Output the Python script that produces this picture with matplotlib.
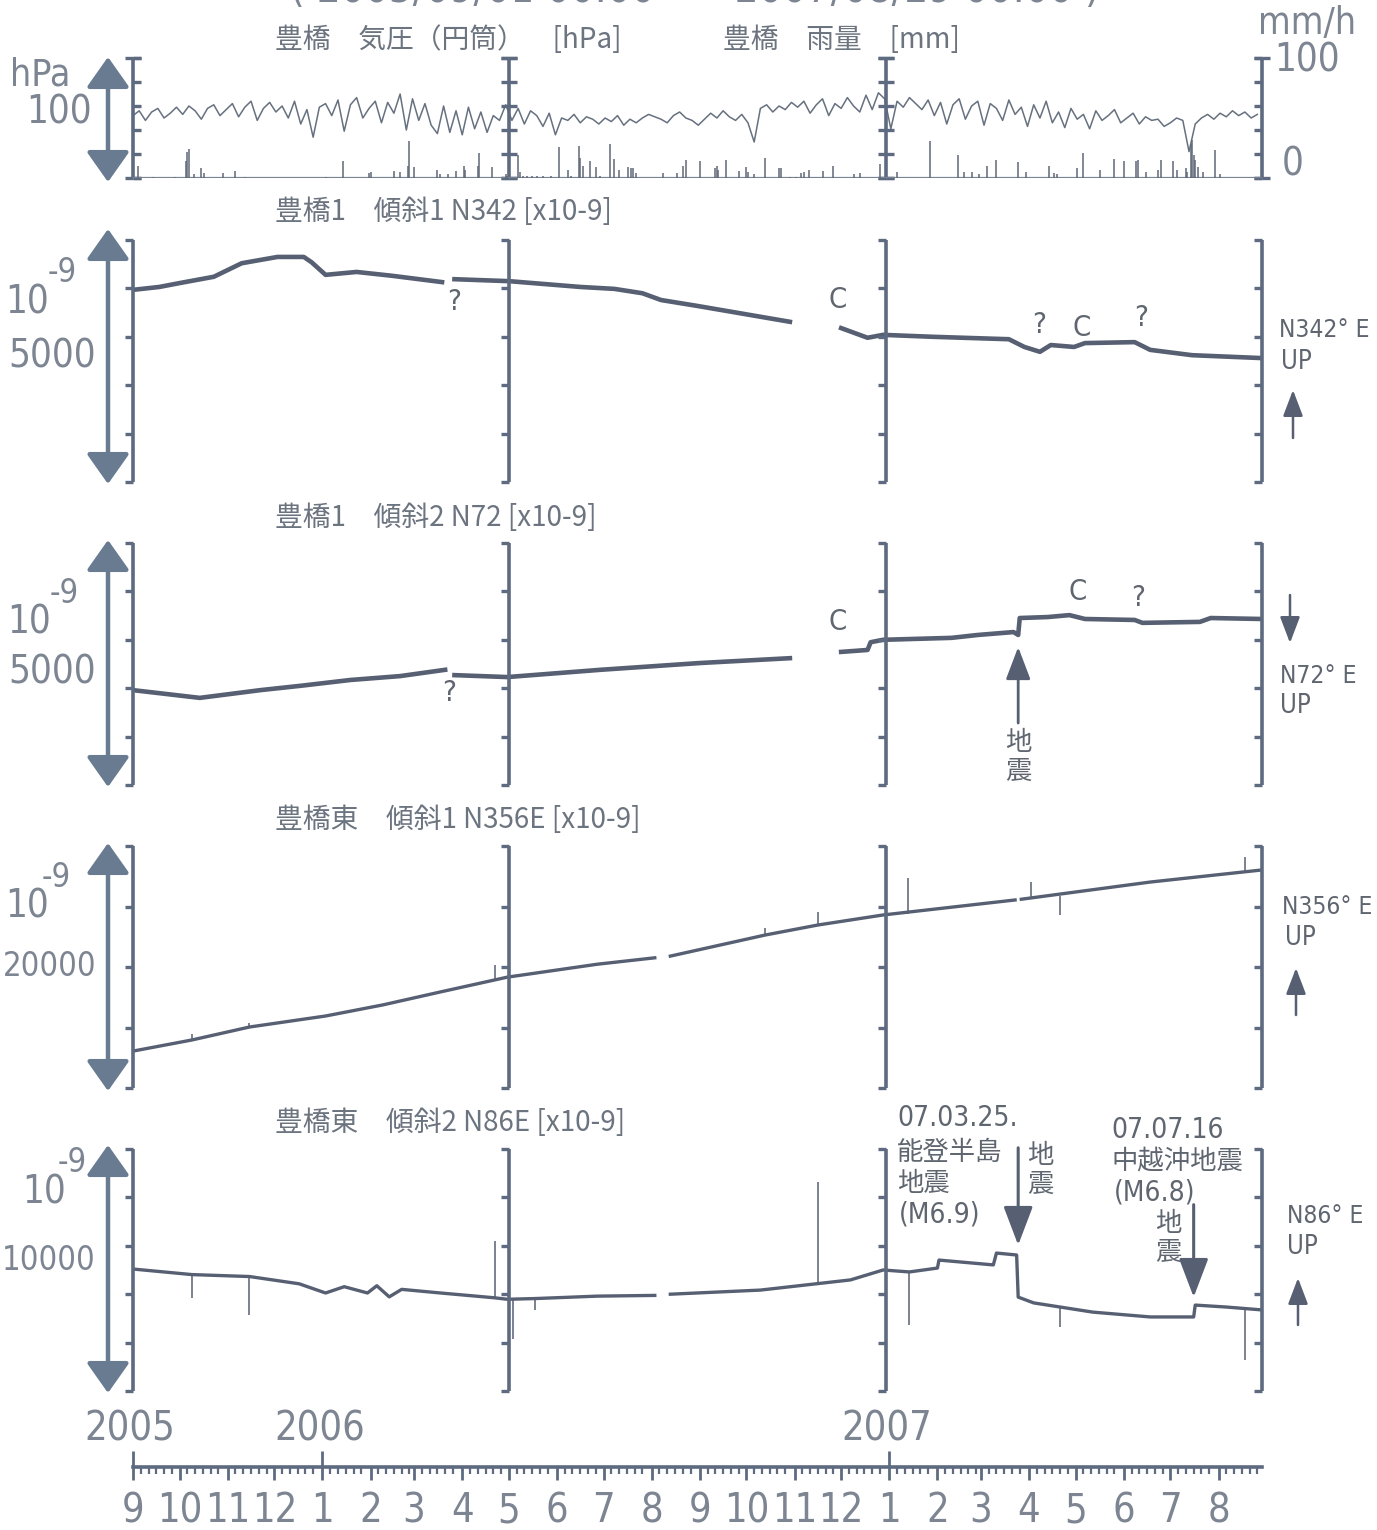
import numpy as np
import matplotlib.pyplot as plt
from matplotlib import font_manager
from matplotlib.markers import TICKLEFT, TICKRIGHT
from matplotlib.patches import FancyArrowPatch

W, H = 1377, 1530
X0, X1 = 133, 1262

t0 = np.datetime64("2005-09-01")
t1 = np.datetime64("2007-08-29")
span = int((t1 - t0).astype(int))

# ================ Data =================== #
# Toyohashi air pressure, one sample every 4 days from 2005/09/01 [hPa]
press_hpa = [
    1012, 1016, 1008, 1015, 1018, 1010, 1014, 1019,
    1013, 1020, 1016, 1009, 1018, 1021, 1012, 1017,
    1022, 1011, 1019, 1024, 1008, 1018, 1023, 1015,
    1020, 1010, 1024, 1005, 1017, 994, 1019, 1022,
    1012, 1025, 999, 1021, 1027, 1010, 1018, 1024,
    1006, 1023, 1014, 1030, 1000, 1026, 1008, 1022,
    1004, 997, 1020, 998, 1016, 996, 1019, 1001,
    1015, 998, 1012, 1008,
    1021, 1008, 1018, 1005, 1016, 1012, 1003, 1014,
    996, 1010, 1008, 1013, 1006, 1011, 1009, 1005,
    1010, 1007, 1012, 1004, 1009, 1006, 1010, 1013,
    1011, 1009, 1006, 1012, 1015, 1010, 1008, 1004,
    1009, 1014, 1010, 1016, 1011, 1008, 1013, 1006,
    990, 1018, 1021, 1015, 1020, 1017, 1023, 1019,
    1024, 1014, 1021, 1026, 1012, 1022, 1018, 1027,
    1020, 1015, 1029, 1017, 1031,
    1026, 1001, 1024, 1019, 1027, 1022, 1017, 1025,
    1012, 1023, 1005, 1021, 1026, 1009, 1020, 1024,
    1004, 1022, 1018, 1008, 1025, 1013, 1019, 1003,
    1021, 1010, 1024, 1006, 1015, 1002, 1018, 1009,
    1013, 1001, 1016, 1008, 1012, 1017, 1006, 1010,
    1014, 1005, 1011, 1008, 1009, 1003, 1006, 1010,
    1008, 982, 1005, 1010, 1013, 1009, 1014, 1011,
    1016, 1012, 1015, 1010, 1013,
]
press_day = np.arange(0, 4 * len(press_hpa), 4)

# Toyohashi hourly rain [mm/h]
rain_day = [3, 13, 27, 34, 35, 36, 39, 44, 46, 58, 66, 72, 124, 135, 152, 153, 168, 172,
            177, 178, 181, 196, 198, 203, 208, 213, 214, 222, 223, 231, 240,
            241, 248, 249, 251, 254, 257, 260, 264, 269, 274, 280, 282, 287, 288, 290,
            294, 298, 301, 307, 310, 313, 319, 321, 322, 324, 341, 350, 354, 356, 365,
            375, 376, 377, 382, 390, 395, 396, 400, 407, 416, 417, 423, 427, 430, 432,
            435, 444, 451, 464, 468, 481,
            492, 513, 531, 535, 540, 545, 550, 556, 570, 575, 590, 593, 595, 608, 612,
            623, 632, 638, 646, 647, 652, 660, 662, 670, 672, 678, 679, 681, 682, 683,
            684, 686, 689, 697, 700]
rain_mm = [10, 1, 1, 14, 22, 24, 3, 8, 4, 4, 6, 1, 1, 14, 4, 5, 6, 5,
           10, 31, 9, 7, 3, 3, 6, 10, 7, 10, 21, 9, 3,
           2, 19, 5, 2, 2, 2, 2, 2, 2, 26, 7, 2, 27, 17, 10,
           14, 9, 2, 28, 16, 7, 9, 8, 8, 4, 4, 4, 10, 15, 14,
           8, 10, 7, 15, 6, 9, 5, 3, 17, 8, 8, 1, 1, 4, 5,
           7, 6, 10, 3, 4, 12,
           5, 31, 19, 5, 5, 3, 10, 15, 13, 5, 10, 4, 3, 8, 21,
           7, 16, 14, 14, 15, 5, 7, 15, 14, 7, 8, 5, 28, 32, 19,
           15, 9, 5, 23, 3]

# Toyohashi-1 tilt 1, N342 [x10-9]  (nan = no record)
n342_day = [0, 17, 30, 52, 70, 93, 110, 115, 124, 144, 167, 199, 203, 207, 242, 288, 310,
            328, 340, 363, 423, 440, 456, 473, 483, 515, 564, 574, 584, 591, 606, 613, 645,
            655, 682, 727]
n342_val = [3970, 4030, 4110, 4240, 4520, 4650, 4650, 4540, 4280, 4340, 4260, 4130, np.nan,
            4190, 4150, 4030, 3990, 3900, 3760, 3640, 3310, np.nan, 3180, 2980, 3040, 3000,
            2950, 2790, 2690, 2830, 2790, 2870, 2890, 2730, 2620, 2560]

# Toyohashi-1 tilt 2, N72 [x10-9]
n72_day = [0, 43, 82, 108, 140, 172, 201, 204, 207, 241, 301, 365, 423, 440, 456, 473, 475,
           483, 527, 544, 567, 570, 571, 589, 603, 613, 645, 650, 687, 694, 727]
n72_val = [1960, 1800, 1960, 2050, 2170, 2250, 2380, np.nan, 2270, 2230, 2380, 2520, 2620,
           np.nan, 2750, 2790, 2950, 3000, 3040, 3100, 3160, 3100, 3450, 3470, 3510, 3430,
           3410, 3350, 3370, 3450, 3430]

# Toyohashi-east tilt 1, N356E [x10-9]
n356_day = [0, 38, 75, 124, 161, 198, 241, 299, 336, 340, 346, 407, 441, 483, 568, 570, 572,
            655, 727]
n356_val = [3050, 3970, 5040, 5950, 6870, 7940, 9160, 10230, 10760, np.nan, 10900, 12640,
            13470, 14300, 15540, np.nan, 15600, 17020, 18020]
n356_spike_day = [38, 75, 233, 407, 441, 499, 578, 597, 716]
n356_spike_base = [3970, 5040, 8900, 12640, 13470, 14400, 15650, 15900, 17850]
n356_spike_tip = [4430, 5400, 10140, 13220, 14540, 17350, 17020, 14300, 19090]

# Toyohashi-east tilt 2, N86E [x10-9]
n86_day = [0, 38, 75, 107, 124, 136, 151, 157, 165, 173, 198, 233, 241, 259, 299, 336, 340,
           346, 404, 462, 483, 500, 518, 519, 554, 556, 569, 570, 580, 618, 655, 683, 684, 704, 727]
n86_val = [5040, 4810, 4730, 4430, 4050, 4310, 4050, 4350, 3890, 4200, 4050, 3850, 3790, 3820,
           3920, 3950, np.nan, 4000, 4170, 4590, 5000, 4920, 5080, 5410, 5210, 5700, 5620, 3880,
           3640, 3260, 3060, 3060, 3550, 3470, 3350]
n86_spike_day = [38, 75, 233, 245, 259, 441, 500, 597, 716]
n86_spike_base = [4810, 4730, 3850, 3790, 3820, 4400, 4920, 3500, 3420]
n86_spike_tip = [3850, 3130, 6180, 2140, 3360, 8640, 2730, 2640, 1280]

quake_noto = int((np.datetime64("2007-03-25") - t0).astype(int))
quake_chuetsu = int((np.datetime64("2007-07-16") - t0).astype(int))

# ================ Style =================== #
LINE = "#575f72"
AXC = "#5d6a80"
ARROW = "#687b91"
TXT = "#6c7480"
LIGHT = "#7c8591"
MARK = "#5f6670"
JP = ["Noto Sans CJK JP", "DejaVu Sans"]

# narrow face for the numbers, whichever one is installed
_fonts = font_manager.fontManager.ttflist
if any(f.name == "Liberation Sans Narrow" for f in _fonts):
    NARROW, NSCALE = dict(family="Liberation Sans Narrow"), 0.95
elif any(f.name == "DejaVu Sans" and f.stretch == "condensed" for f in _fonts):
    NARROW, NSCALE = dict(family="DejaVu Sans", stretch="condensed"), 0.84
else:
    NARROW, NSCALE = dict(family="Liberation Sans"), 0.8

fig = plt.figure(figsize=(W / 100, H / 100), dpi=100)


def panel(top, bottom, lo, hi):
    ax = fig.add_axes([X0 / W, 1 - bottom / H, (X1 - X0) / W, (bottom - top) / H])
    ax.set_xlim(0, span)
    ax.set_ylim(lo, hi)
    ax.set_axis_off()
    return ax


def brackets(ax, lo, hi, n, ibeam=False):
    ticks = np.linspace(lo, hi, n + 1)
    xs = [0, span / 3, 2 * span / 3, span]
    for i, bx in enumerate(xs):
        ax.plot([bx, bx], [lo, hi], color=AXC, lw=2.6, clip_on=False, solid_capstyle="butt")
        if ibeam:
            sides = [TICKRIGHT] if i == 0 else ([TICKLEFT] if i == 3 else [TICKLEFT, TICKRIGHT])
            for m in sides:
                ax.plot([bx] * len(ticks), ticks, ls="none", marker=m, ms=6, mew=2.4,
                        color=AXC, clip_on=False)
            for m in [TICKLEFT, TICKRIGHT]:
                ax.plot([bx, bx], [lo, hi], ls="none", marker=m, ms=6, mew=2.4,
                        color=AXC, clip_on=False)
        else:
            ax.plot([bx] * len(ticks), ticks, ls="none", marker=TICKLEFT, ms=6, mew=2.4,
                    color=AXC, clip_on=False)


def ftext(x, y, s, size, color=TXT, ha="left", jp=False, **kw):
    font = dict(family=JP) if jp else NARROW
    if not jp:
        size = size * NSCALE
    fig.text(x / W, 1 - y / H, s, fontsize=size, color=color, ha=ha, va="center",
             **font, **kw)


def farrow(x, y0, y1, style, scale, lw, color=ARROW):
    fig.add_artist(FancyArrowPatch((x / W, 1 - y0 / H), (x / W, 1 - y1 / H),
                                   transform=fig.transFigure, arrowstyle=style,
                                   mutation_scale=scale, lw=lw, color=color,
                                   shrinkA=0, shrinkB=0))


def scale_label(y10, y9, yval, x10, x9, text):
    ftext(x10, y10, "10", 33, LIGHT)
    ftext(x9, y9, "-9", 28, LIGHT)
    ftext(96, yval, text, 33 if len(text) < 5 else 28, LIGHT, ha="right")


BIG = "<|-|>,head_length=0.85,head_width=0.6"
SMALL = "-|>,head_length=1.0,head_width=0.38"

# ================ Pressure / rain =================== #
ax1 = panel(58, 178, 960, 1060)
ax1.plot(press_day, press_hpa, color="#66707f", lw=1.1)
brackets(ax1, 960, 1060, 5, ibeam=True)
ax1r = panel(58, 178, 0, 100)
ax1r.axhline(0, color="#7a8392", lw=1.6)
ax1r.vlines(rain_day, 0, rain_mm, color="#5f6878", lw=1.1)

ftext(275, 40, "豊橋　気圧（円筒）　[hPa]", 20, jp=True)
ftext(723, 40, "豊橋　雨量　[mm]", 20, jp=True)
ftext(10, 75, "hPa", 32, LIGHT)
ftext(92, 113, "100", 33, LIGHT, ha="right")
ftext(1258, 24, "mm/h", 32, LIGHT)
ftext(1274, 60, "100", 33, LIGHT)
ftext(1282, 165, "0", 33, LIGHT)
farrow(108, 182, 57, BIG, 22, 3.2)

# ================ Tilt panels =================== #
ax2 = panel(240, 482, 0, 5000)
ax2.plot(n342_day, n342_val, color=LINE, lw=3.3)
brackets(ax2, 0, 5000, 5)
ftext(275, 212, "豊橋1　傾斜1 N342 [x10-9]", 20, jp=True)
scale_label(302, 272, 357, 5, 48, "5000")
farrow(108, 484, 229, BIG, 22, 3.2)
for x, y, s in [(447, 302, "?"), (829, 300, "C"), (1032, 325, "?"), (1073, 328, "C"), (1134, 318, "?")]:
    ftext(x, y, s, 25, MARK)
ftext(1279, 330, "N342° E", 21, MARK)
ftext(1281, 362, "UP", 22, MARK)
farrow(1293, 438, 390, SMALL, 16, 1.8, LINE)

ax3 = panel(543, 785, 0, 5000)
ax3.plot(n72_day, n72_val, color=LINE, lw=3.3)
brackets(ax3, 0, 5000, 5)
ftext(275, 518, "豊橋1　傾斜2 N72 [x10-9]", 20, jp=True)
scale_label(623, 594, 672, 7, 50, "5000")
farrow(108, 787, 540, BIG, 22, 3.2)
for x, y, s in [(442, 693, "?"), (828, 622, "C"), (1068, 592, "C"), (1131, 598, "?")]:
    ftext(x, y, s, 25, MARK)
ax3.annotate("", xy=(quake_noto, 2850), xytext=(quake_noto, 1280), annotation_clip=False,
             arrowprops=dict(arrowstyle=SMALL, mutation_scale=20, lw=2.0, color=LINE,
                             shrinkA=0, shrinkB=0))
ftext(1018, 757, "地\n震", 19, MARK, ha="center", jp=True, linespacing=1.05)
ftext(1280, 676, "N72° E", 21, MARK)
ftext(1280, 706, "UP", 22, MARK)
farrow(1290, 595, 643, SMALL, 16, 1.8, LINE)

ax4 = panel(846, 1088, 0, 20000)
ax4.plot(n356_day, n356_val, color=LINE, lw=2.4)
ax4.vlines(n356_spike_day, n356_spike_base, n356_spike_tip, color=LINE, lw=1.1)
brackets(ax4, 0, 20000, 4)
ftext(275, 820, "豊橋東　傾斜1 N356E [x10-9]", 20, jp=True)
scale_label(907, 878, 967, 5, 42, "20000")
farrow(108, 1091, 843, BIG, 22, 3.2)
ftext(1282, 907, "N356° E", 21, MARK)
ftext(1285, 938, "UP", 22, MARK)
farrow(1296, 1015, 968, SMALL, 16, 1.8, LINE)

ax5 = panel(1149, 1391, 0, 10000)
ax5.plot(n86_day, n86_val, color=LINE, lw=2.4)
ax5.vlines(n86_spike_day, n86_spike_base, n86_spike_tip, color=LINE, lw=1.1)
brackets(ax5, 0, 10000, 5)
ftext(275, 1123, "豊橋東　傾斜2 N86E [x10-9]", 20, jp=True)
scale_label(1192, 1162, 1261, 22, 58, "10000")
farrow(108, 1393, 1145, BIG, 22, 3.2)
for day, tail, tip in [(quake_noto, 10050, 6030), (quake_chuetsu, 7700, 3880)]:
    ax5.annotate("", xy=(day, tip), xytext=(day, tail), annotation_clip=False,
                 arrowprops=dict(arrowstyle=SMALL, mutation_scale=24, lw=2.2, color=LINE,
                                 shrinkA=0, shrinkB=0))
ftext(897, 1118, "07.03.25.", 24, MARK)
ftext(897, 1152, "能登半島", 19, MARK, jp=True)
ftext(897, 1183, "地震", 19, MARK, jp=True)
ftext(899, 1214, "(M6.9)", 24, MARK)
ftext(1040, 1170, "地\n震", 19, MARK, ha="center", jp=True, linespacing=1.05)
ftext(1111, 1130, "07.07.16", 24, MARK)
ftext(1111, 1162, "中越沖地震", 19, MARK, jp=True)
ftext(1114, 1192, "(M6.8)", 24, MARK)
ftext(1168, 1238, "地\n震", 19, MARK, ha="center", jp=True, linespacing=1.05)
ftext(1287, 1216, "N86° E", 21, MARK)
ftext(1287, 1247, "UP", 22, MARK)
farrow(1298, 1325, 1278, SMALL, 16, 1.8, LINE)

ftext(695, -10, "( 2005/09/01 00:00  ~  2007/08/29 00:00 )", 36, LIGHT, ha="center")

# ================ Time axis =================== #
months = np.arange(np.datetime64("2005-09"), np.datetime64("2007-09"))
month_days = (months.astype("datetime64[D]") - t0).astype(int)
month_num = (months.astype(int) % 12) + 1
minor_days = [d + k for d in month_days for k in (5, 10, 15, 20, 25) if d + k < span]
year_days = [0, month_days[4], month_days[16]]
year_lab = ["2005", "2006", "2007"]

axt = fig.add_axes([X0 / W, 1 - 1467 / H, (X1 - X0) / W, 20 / H])
axt.set_xlim(0, span)
axt.set_ylim(0, 1)
for s in ["top", "left", "right"]:
    axt.spines[s].set_visible(False)
axt.spines["bottom"].set_color(AXC)
axt.spines["bottom"].set_linewidth(2.6)
axt.patch.set_alpha(0)
axt.set_yticks([])
axt.set_xticks(month_days)
axt.set_xticks(minor_days, minor=True)
axt.tick_params(axis="x", which="major", length=9, width=2.0, color=AXC, labelbottom=False)
axt.tick_params(axis="x", which="minor", length=5, width=1.6, color=AXC)
axt.vlines(year_days, 0, 0.8, color=AXC, lw=2.0, clip_on=False)
for d, m in zip(month_days, month_num):
    axt.annotate(str(m), xy=(d, 0), xytext=(0, -32), textcoords="offset points",
                 ha="center", va="center", fontsize=34 * NSCALE, color=LIGHT, **NARROW)
for d, s in zip(year_days, year_lab):
    axt.annotate(s, xy=(d, 0), xytext=(-2, 27), textcoords="offset points",
                 ha="center", va="center", fontsize=34 * NSCALE, color=LIGHT, **NARROW)

fig.savefig("out.png", dpi=100)
